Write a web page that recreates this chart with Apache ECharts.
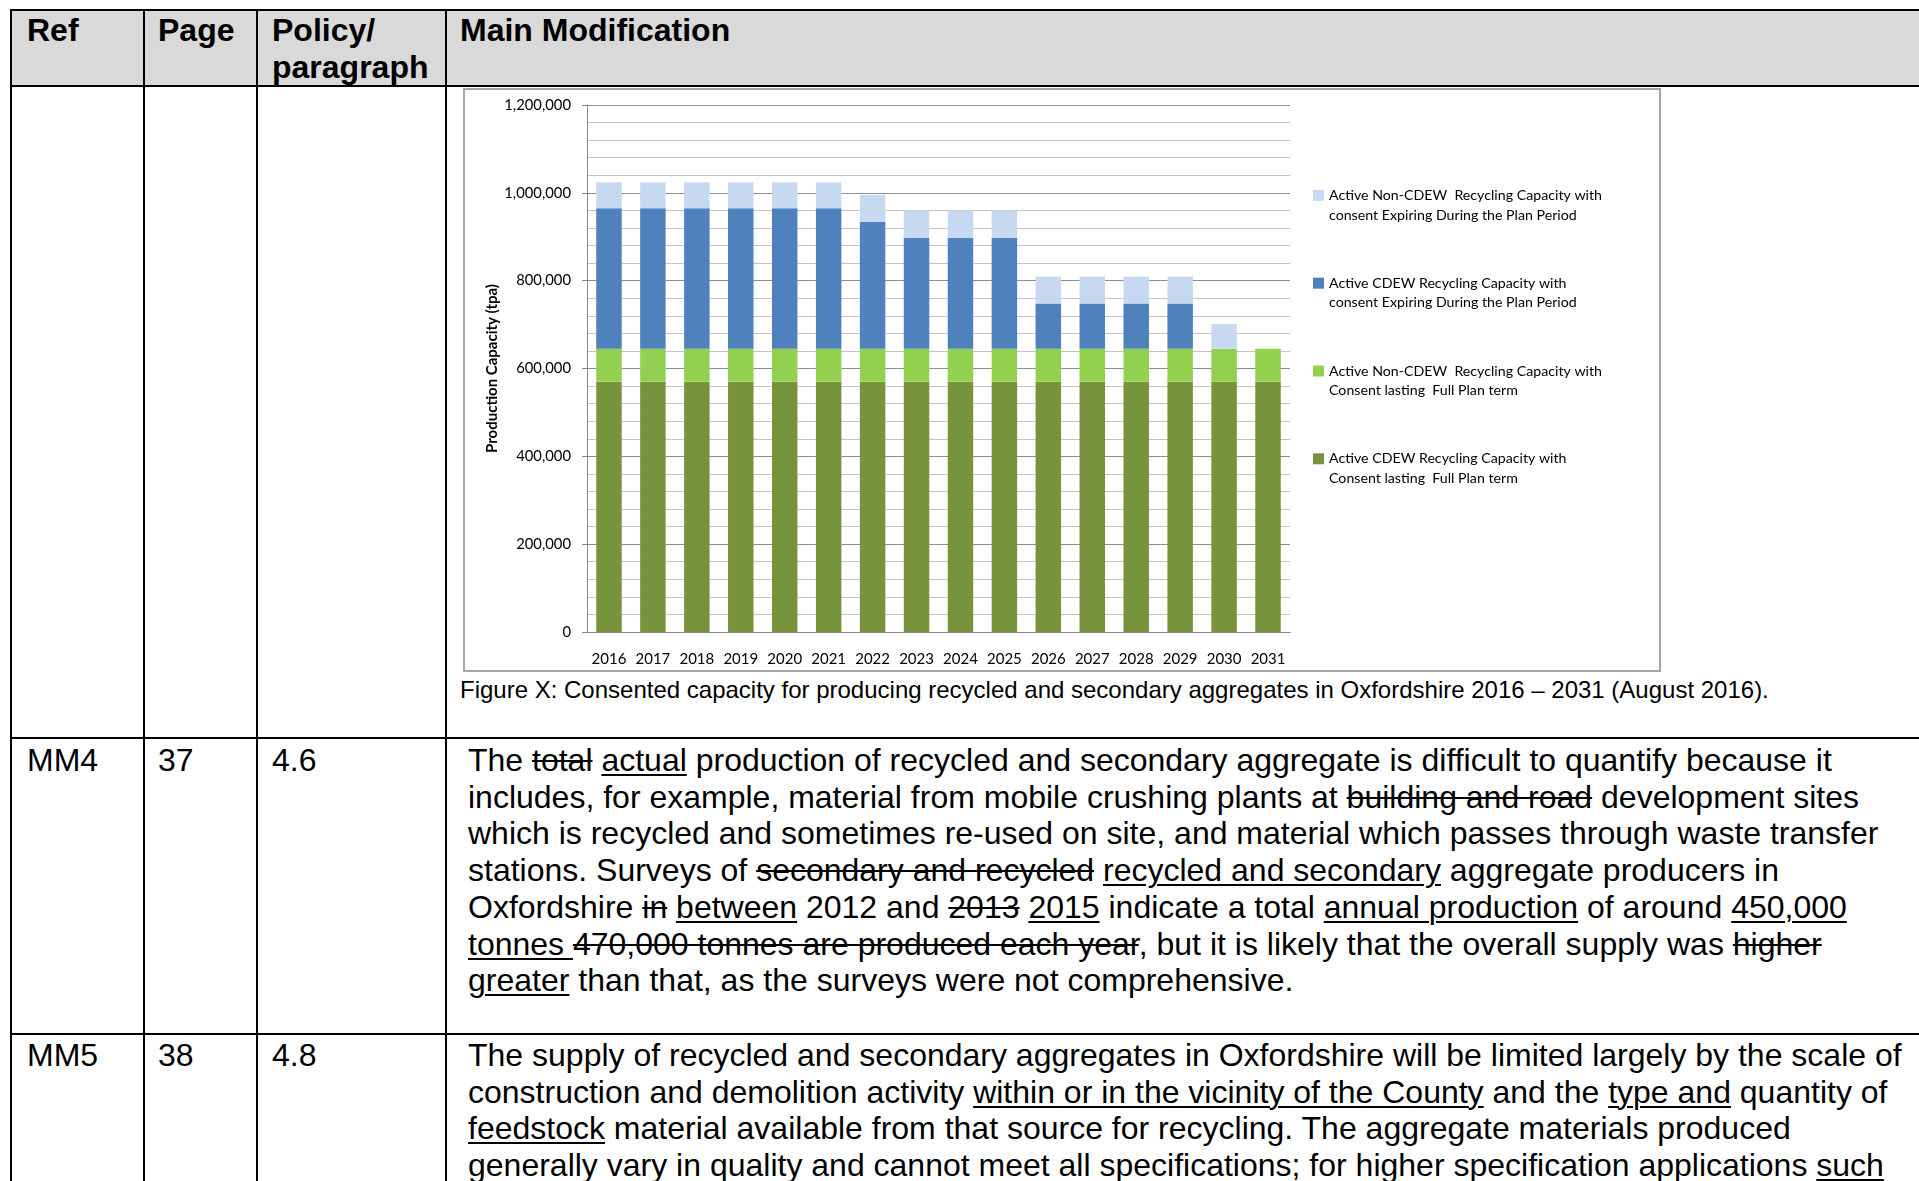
<!DOCTYPE html>
<html>
<head>
<meta charset="utf-8">
<script src="https://cdn.jsdelivr.net/npm/echarts@6/dist/echarts.min.js"></script>
<style>
  body { margin: 0; width: 1919px; height: 1181px; overflow: hidden; background: #fff; position: relative;
         font-family: "Liberation Sans", Arial, sans-serif; color: #000; }
  .hbg { position: absolute; left: 11px; top: 10px; width: 1908px; height: 76px; background: #d9d9d9; }
  .ln { position: absolute; background: #000; }
  .t { position: absolute; white-space: pre; font-size: 32px; line-height: 36.7px; }
  .b { font-weight: bold; }
  .cap { position: absolute; white-space: pre; font-size: 24px; line-height: 30px; left: 460px; top: 675px; }
  u { text-decoration: underline; text-decoration-thickness: 2px; text-underline-offset: 3px; }
  s { text-decoration: line-through; text-decoration-thickness: 2px; }
  #frame { position: absolute; left: 463px; top: 88px; width: 1198px; height: 584px;
           border: 2px solid #a6a6a6; box-sizing: border-box; background: #fff; }
  #m1 { width: 100%; height: 100%; }
</style>
</head>
<body>
<div class="hbg"></div>

<!-- table rules -->
<div class="ln" style="left:10px;top:9px;width:1909px;height:2px"></div>
<div class="ln" style="left:10px;top:85px;width:1909px;height:2px"></div>
<div class="ln" style="left:10px;top:737px;width:1909px;height:2px"></div>
<div class="ln" style="left:10px;top:1033px;width:1909px;height:2px"></div>
<div class="ln" style="left:10px;top:9px;width:2px;height:1172px"></div>
<div class="ln" style="left:143px;top:9px;width:2px;height:1172px"></div>
<div class="ln" style="left:256px;top:9px;width:2px;height:1172px"></div>
<div class="ln" style="left:445px;top:9px;width:2px;height:1172px"></div>

<!-- header -->
<div class="t b" style="left:27px;top:12px">Ref</div>
<div class="t b" style="left:158px;top:12px">Page</div>
<div class="t b" style="left:272px;top:12px">Policy/<br>paragraph</div>
<div class="t b" style="left:460px;top:12px">Main Modification</div>

<!-- chart -->
<div id="frame"><div id="m1"></div></div>
<div class="cap">Figure X: Consented capacity for producing recycled and secondary aggregates in Oxfordshire 2016 – 2031 (August 2016).</div>

<!-- MM4 -->
<div class="t" style="left:27px;top:742px">MM4</div>
<div class="t" style="left:158px;top:742px">37</div>
<div class="t" style="left:272px;top:742px">4.6</div>
<div class="t" style="left:468px;top:742px">The <s>total</s> <u>actual</u> production of recycled and secondary aggregate is difficult to quantify because it
includes, for example, material from mobile crushing plants at <s>building and road</s> development sites
which is recycled and sometimes re-used on site, and material which passes through waste transfer
stations. Surveys of <s>secondary and recycled</s> <u>recycled and secondary</u> aggregate producers in
Oxfordshire <s>in</s> <u>between</u> 2012 and <s>2013</s> <u>2015</u> indicate a total <u>annual production</u> of around <u>450,000</u>
<u>tonnes </u><s>470,000 tonnes are produced each year</s>, but it is likely that the overall supply was <s>higher</s>
<u>greater</u> than that, as the surveys were not comprehensive.</div>

<!-- MM5 -->
<div class="t" style="left:27px;top:1037px">MM5</div>
<div class="t" style="left:158px;top:1037px">38</div>
<div class="t" style="left:272px;top:1037px">4.8</div>
<div class="t" style="left:468px;top:1037px">The supply of recycled and secondary aggregates in Oxfordshire will be limited largely by the scale of
construction and demolition activity <u>within or in the vicinity of the County</u> and the <u>type and</u> quantity of
<u>feedstock</u> material available from that source for recycling. The aggregate materials produced
generally vary in quality and cannot meet all specifications; for higher specification applications <u>such</u></div>

<script>
// data (tpa)
var years = ['2016', '2017', '2018', '2019', '2020', '2021', '2022', '2023',
             '2024', '2025', '2026', '2027', '2028', '2029', '2030', '2031'];
var cdewFull = [570000, 570000, 570000, 570000, 570000, 570000, 570000, 570000,
                570000, 570000, 570000, 570000, 570000, 570000, 570000, 570000];
var nonCdewFull = [75000, 75000, 75000, 75000, 75000, 75000, 75000, 75000,
                   75000, 75000, 75000, 75000, 75000, 75000, 75000, 75000];
var cdewExpiring = [320000, 320000, 320000, 320000, 320000, 320000, 289000, 252000,
                    252000, 252000, 103000, 103000, 103000, 103000, 0, 0];
var nonCdewExpiring = [59000, 59000, 59000, 59000, 59000, 59000, 61000, 63000,
                       63000, 63000, 61000, 61000, 61000, 61000, 56000, 0];

var seriesNames = [
    'Active CDEW Recycling Capacity with Consent lasting Full Plan term',
    'Active Non-CDEW Recycling Capacity with Consent lasting Full Plan term',
    'Active CDEW Recycling Capacity with consent Expiring During the Plan Period',
    'Active Non-CDEW Recycling Capacity with consent Expiring During the Plan Period'
];
var legendLines = {};
legendLines[seriesNames[0]] = ['Active CDEW Recycling Capacity with', 'Consent lasting  Full Plan term'];
legendLines[seriesNames[1]] = ['Active Non-CDEW  Recycling Capacity with', 'Consent lasting  Full Plan term'];
legendLines[seriesNames[2]] = ['Active CDEW Recycling Capacity with', 'consent Expiring During the Plan Period'];
legendLines[seriesNames[3]] = ['Active Non-CDEW  Recycling Capacity with', 'consent Expiring During the Plan Period'];

var colors = ['#77933c', '#92d050', '#4f81bd', '#c6d9f1'];
var values = [cdewFull, nonCdewFull, cdewExpiring, nonCdewExpiring];

var myChart = echarts.init(document.getElementById('m1'));
var option = {
    animation: false,
    textStyle: { fontFamily: 'Lato' },
    grid: { left: 122, top: 15, width: 703, height: 527 },
    legend: {
        orient: 'vertical',
        left: 848,
        top: 76,
        padding: 0,
        itemGap: 29,
        itemWidth: 11,
        itemHeight: 11,
        icon: 'rect',
        data: [seriesNames[3], seriesNames[2], seriesNames[1], seriesNames[0]],
        formatter: function (name) {
            // blank first line keeps the swatch level with the first text line
            return '\n' + legendLines[name].join('\n');
        },
        textStyle: { fontFamily: 'Lato', fontSize: 14.2, lineHeight: 19.6, color: '#000' }
    },
    xAxis: {
        type: 'category',
        data: years,
        axisLine: { lineStyle: { color: '#868686' } },
        axisTick: { length: 5, lineStyle: { color: '#868686' } },
        axisLabel: { margin: 19.5, interval: 0, fontFamily: 'Lato', fontSize: 15, color: '#000' }
    },
    yAxis: {
        type: 'value',
        min: 0,
        max: 1200000,
        interval: 200000,
        name: 'Production Capacity (tpa)',
        nameLocation: 'middle',
        nameRotate: 90,
        nameGap: 87,
        nameMoveOverlap: false,
        nameTextStyle: { fontFamily: 'Lato', fontWeight: 'bold', fontSize: 15, color: '#000' },
        axisLine: { show: true, lineStyle: { color: '#868686' } },
        axisTick: { show: true, length: 5, lineStyle: { color: '#868686' } },
        axisLabel: {
            margin: 16, fontFamily: 'Lato', fontSize: 14.8, color: '#000',
            formatter: function (v) { return v.toLocaleString('en-US'); }
        },
        splitLine: { lineStyle: { color: '#8e8e8e' } },
        minorTick: { show: false, splitNumber: 5 },
        minorSplitLine: { show: true, lineStyle: { color: '#c4c4c4' } }
    },
    series: seriesNames.map(function (n, i) {
        return {
            name: n,
            type: 'bar',
            stack: 'cap',
            barWidth: '58%',
            itemStyle: { color: colors[i] },
            data: values[i]
        };
    })
};
myChart.setOption(option);
</script>
</body>
</html>
